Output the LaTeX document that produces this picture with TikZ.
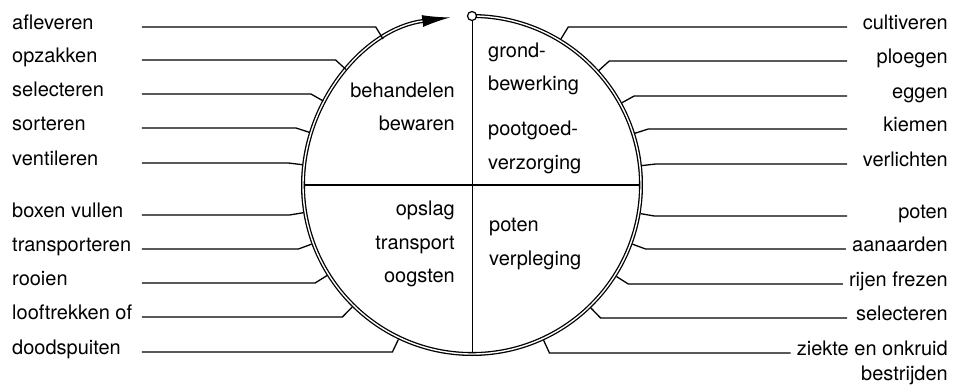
\documentclass[tikz,border=0pt]{standalone}
\usepackage{fontspec}
\setmainfont{TeX Gyre Heros}
\usetikzlibrary{arrows.meta,calc}
\tikzset{
  lbl/.style={inner sep=0pt,font=\fontsize{20}{24}\selectfont},
  wire/.style={line width=1.3pt},
  ring/.style={double,line width=1.3pt,double distance=1.4pt},
}
\newcommand{\ringr}{169}
\newcommand{\elbr}{185}
\newcommand{\touchr}{171}
\begin{document}
\begin{tikzpicture}[x=1pt,y=1pt]
\useasboundingbox (-472,-204) rectangle (483,185);
% kruis in de kring
\coordinate (top) at (90:\ringr);
\coordinate (bot) at (270:\ringr);
\coordinate (lft) at (180:\ringr);
\coordinate (rgt) at (0:\ringr);
\draw[line width=1pt] (top) -- (bot);
\draw[line width=1.6pt] (lft) -- (rgt);
% de kringloop
\draw[ring,-{Latex[length=28pt,width=12pt]}] (top) arc[start angle=90,end angle=-262.6,radius=\ringr];
\node[circle,draw,fill=white,line width=1.2pt,minimum size=9pt,inner sep=0pt] (start) at (top) {};
% teksten in de kwadranten
\node[lbl,anchor=mid east] (beh) at (-17,90) {behandelen};
\node[lbl,anchor=mid east] (bew) at (-17,57) {bewaren};
\node[lbl,anchor=mid west] (gro) at (16,130) {grond-};
\node[lbl,anchor=mid west] (grb) at (16,97) {bewerking};
\node[lbl,anchor=mid west] (poo) at (16,52) {pootgoed-};
\node[lbl,anchor=mid west] (pov) at (16,18) {verzorging};
\node[lbl,anchor=mid east] (ops) at (-17,-28) {opslag};
\node[lbl,anchor=mid east] (tra) at (-17,-62) {transport};
\node[lbl,anchor=mid east] (oog) at (-17,-95) {oogsten};
\node[lbl,anchor=mid west] (pot) at (17,-44) {poten};
\node[lbl,anchor=mid west] (ver) at (17,-78) {verpleging};
% handelingen links
\foreach \txt/\h [count=\i] in {afleveren/158,opzakken/125,selecteren/91,sorteren/57,ventileren/22,
    boxen vullen/-30,transporteren/-64,rooien/-98,looftrekken of/-132,doodspuiten/-167}{
  \node[lbl,anchor=mid west] (l\i) at (-460,\h) {\txt};
  \path let \p1=(l\i.east) in coordinate (ls\i) at ({max(\x1+3,-330)},\h);
  \coordinate (le\i) at ({-\elbr*cos(asin(\h/\elbr))},\h);
  \coordinate (lc\i) at ({180-asin(\h/\elbr)}:\touchr);
  \draw[wire] (ls\i) -- (le\i) -- (lc\i);
}
% handelingen rechts
\foreach \txt/\h [count=\i] in {cultiveren/158,ploegen/124,eggen/89,kiemen/56,verlichten/21,
    poten/-31,aanaarden/-64,rijen frezen/-99,selecteren/-133,ziekte en onkruid/-168}{
  \node[lbl,anchor=mid east] (r\i) at (476,\h) {\txt};
  \path let \p1=(r\i.west) in coordinate (rs\i) at ({min(\x1-6,375)},\h);
  \coordinate (re\i) at ({\elbr*cos(asin(\h/\elbr))},\h);
  \coordinate (rc\i) at ({asin(\h/\elbr)}:\touchr);
  \draw[wire] (rs\i) -- (re\i) -- (rc\i);
}
\node[lbl,anchor=mid east] (r11) at (476,-193) {bestrijden};
\end{tikzpicture}
\end{document}
